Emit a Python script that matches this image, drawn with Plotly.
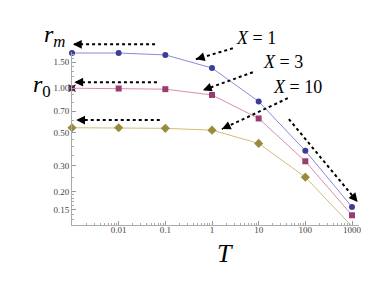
import math
import plotly.graph_objects as go

# ---- data ----
T_values = [0.001, 0.01, 0.1, 1, 10, 100, 1000]
r_X1 = [1.73, 1.73, 1.68, 1.37, 0.813, 0.377, 0.157]
r_X3 = [1.00, 0.995, 0.985, 0.90, 0.624, 0.32, 0.138]
r_X10 = [0.54, 0.54, 0.535, 0.52, 0.423, 0.25, 0.116]
x_tick_vals = [0.01, 0.1, 1, 10, 100, 1000]
x_tick_text = ["0.01", "0.1", "1", "10", "100", "1000"]
y_tick_vals = [0.15, 0.2, 0.3, 0.5, 0.7, 1.0, 1.5]
y_tick_text = ["0.15", "0.20", "0.30", "0.50", "0.70", "1.00", "1.50"]

# page body has an 8px margin, so the figure is 8px smaller than the window
W, H = 374, 278
ML, MR, MT, MB = 64, 23, 44, 61
XR = [-3, 3.15]
YR = [-0.926, 0.245]
pxx = (W - ML - MR) / (XR[1] - XR[0])
pxy = (H - MT - MB) / (YR[1] - YR[0])


def px_(lx):
    return (lx - XR[0]) / (XR[1] - XR[0])


def py_(ly):
    return (ly - YR[0]) / (YR[1] - YR[0])


fig = go.Figure()
series = [
    (r_X1, "#3d3d99", "#8a8ad6", "circle", 6),
    (r_X3, "#993d71", "#d98cb5", "square", 6),
    (r_X10, "#998b3d", "#cfc07a", "diamond", 7),
]
for vals, mc, lc, sym, sz in series:
    fig.add_trace(go.Scatter(x=T_values, y=vals, mode="lines+markers",
                             line=dict(color=lc, width=1),
                             marker=dict(color=mc, symbol=sym, size=sz),
                             showlegend=False, cliponaxis=False))
# cross marker at r0
fig.add_trace(go.Scatter(x=[T_values[0]], y=[r_X3[0]], mode="markers",
                         marker=dict(symbol="x-thin", size=7, line=dict(color="#222", width=1.2)),
                         showlegend=False, cliponaxis=False))

# dotted arrows (log10 coordinates: tail -> head)
arrows = [
    ((-1.22, 0.297), (-2.98, 0.297)),
    ((-1.18, 0.0405), (-2.95, 0.0405)),
    ((-1.12, -0.216), (-2.91, -0.216)),
    ((0.447, 0.270), (-0.345, 0.196)),
    ((0.876, 0.108), (-0.195, -0.0135)),
    ((1.625, -0.0676), (0.212, -0.277)),
    ((1.647, -0.209), (3.12, -0.770)),
]
for (tx, ty), (hx, hy) in arrows:
    dxp = (hx - tx) * pxx
    dyp = -(hy - ty) * pxy
    L = math.hypot(dxp, dyp)
    ux, uy = dxp / L, dyp / L
    fig.add_shape(type="line", xref="paper", yref="paper",
                  x0=px_(tx), y0=py_(ty), x1=px_(hx), y1=py_(hy),
                  line=dict(color="black", width=2, dash="dot"))
    fig.add_annotation(x=px_(hx), y=py_(hy), xref="paper", yref="paper",
                       ax=-ux * 7, ay=-uy * 7,
                       text="", showarrow=True, arrowhead=2, arrowsize=1.1,
                       arrowwidth=1.6, arrowcolor="black", standoff=0)

serif = "Liberation Serif, Times New Roman, DejaVu Serif, serif"
labels = [
    (0.94, 0.338, "<i>X</i> = 1", 18),
    (1.518, 0.176, "<i>X</i> = 3", 18),
    (1.839, 0.007, "<i>X</i> = 10", 18),
]
for x, y, t, s in labels:
    fig.add_annotation(x=px_(x), y=py_(y), xref="paper", yref="paper", text=t, showarrow=False,
                       xanchor="center", yanchor="middle",
                       font=dict(family=serif, size=s, color="black"))


def ref_px(xp, yp):
    # reference window pixels -> paper
    lx = (xp - 8 - ML) / pxx + XR[0]
    ly = YR[1] - (yp - 8 - MT) / pxy
    return px_(lx), py_(ly)


for (xp, yp), t, s in [((54, 36), "<i>r</i><sub><i>m</i></sub>", 24),
                       ((42, 86), "<i>r</i><sub>0</sub>", 24),
                       ((225, 253), "<i>T</i>", 26)]:
    ax_, ay_ = ref_px(xp, yp)
    fig.add_annotation(x=ax_, y=ay_, xref="paper", yref="paper", text=t, showarrow=False,
                       xanchor="center", yanchor="middle",
                       font=dict(family=serif, size=s, color="black"))

x_minor = [m * 10 ** e for e in range(-3, 4) for m in range(2, 10) if m * 10 ** e < 1300]
y_minor = [0.12, 0.13, 0.14, 0.16, 0.17, 0.18, 0.19, 0.25, 0.35, 0.4, 0.45, 0.6, 0.8, 0.9, 1.2, 1.3, 1.4, 1.6, 1.7]

fig.update_xaxes(type="log", range=XR, tickvals=x_tick_vals, ticktext=x_tick_text,
                 ticks="inside", ticklen=4, tickcolor="#999", showgrid=False, zeroline=False,
                 showline=True, linecolor="#aaa", linewidth=1, ticklabelstandoff=-4,
                 tickfont=dict(family=serif, size=9, color="#444"),
                 minor=dict(tickmode="array", tickvals=x_minor, ticks="inside", ticklen=2,
                            tickcolor="#aaa", showgrid=False))
fig.update_yaxes(type="log", range=YR, tickvals=y_tick_vals, ticktext=y_tick_text,
                 ticks="inside", ticklen=4, tickcolor="#999", showgrid=False, zeroline=False,
                 showline=True, linecolor="#aaa", linewidth=1,
                 tickfont=dict(family=serif, size=9, color="#444"),
                 minor=dict(tickmode="array", tickvals=y_minor, ticks="inside", ticklen=2,
                            tickcolor="#aaa", showgrid=False))
fig.update_layout(width=W, height=H, margin=dict(l=ML, r=MR, t=MT, b=MB),
                  plot_bgcolor="white", paper_bgcolor="white")
fig.write_html("out.html")
